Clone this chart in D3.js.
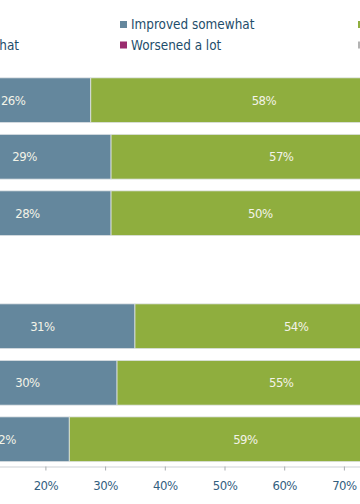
<!DOCTYPE html>
<html>
<head>
<meta charset="utf-8">
<script src="https://cdn.jsdelivr.net/npm/d3@7"></script>
<style>
  html, body { margin: 0; padding: 0; background: #ffffff; overflow: hidden; }
  svg { display: block; }
</style>
</head>
<body>
<svg id="chart" width="360" height="504"></svg>
<script>
// ---- data ----
const categories = ["A1", "A2", "A3", "gap", "B1", "B2", "B3"];
const seriesNames = ["Improved a lot", "Improved somewhat", "Stayed the same", "Worsened somewhat", "Worsened a lot", "Don't know"];
const improvedALot      = [1.6, 2, 3, null, 4, 2, 2];
const improvedSomewhat  = [26, 29, 28, null, 31, 30, 22];
const stayedSame        = [58, 57, 50, null, 54, 55, 59];
const worsenedSomewhat  = [9, 8, 12, null, 7, 8, 10];
const worsenedALot      = [3, 2, 4, null, 2, 3, 4];
const dontKnow          = [2.4, 2, 3, null, 2, 2, 3];
const tickValues = [0, 10, 20, 30, 40, 50, 60, 70, 80, 90, 100];
const colors = ["#1d4f6e", "#64879d", "#8fae3e", "#d8a31f", "#9a2b6e", "#b3b3b3"];

// ---- layout ----
const svg = d3.select("#chart");
const plotLeft = -74, plotRight = 523;
const x = d3.scaleLinear().domain([0, 100]).range([plotLeft, plotRight]);
const y = d3.scaleBand().domain(categories).range([72.2, 467.3]).paddingInner(0.208).paddingOuter(0.1);

const seriesData = [improvedALot, improvedSomewhat, stayedSame, worsenedSomewhat, worsenedALot, dontKnow];
const rows = categories.map((c, i) => {
  const o = { cat: c };
  seriesNames.forEach((s, j) => o[s] = seriesData[j][i]);
  return o;
}).filter(d => d[seriesNames[0]] !== null);

const stacked = d3.stack().keys(seriesNames)(rows);

const labelFont = "'DejaVu Sans Condensed', 'DejaVu Sans', sans-serif";
const legendFont = "'DejaVu Sans Condensed', 'DejaVu Sans', sans-serif";

const g = svg.append("g");
stacked.forEach((layer, j) => {
  const lg = g.append("g");
  lg.selectAll("rect").data(layer).join("rect")
    .attr("x", d => x(d[0]))
    .attr("y", d => y(d.data.cat))
    .attr("width", d => x(d[1]) - x(d[0]))
    .attr("height", y.bandwidth())
    .attr("fill", colors[j])
    .attr("stroke", "#dfe3e6")
    .attr("stroke-width", 0.8);
  lg.selectAll("text").data(layer.filter(d => d[1] - d[0] >= 5)).join("text")
    .attr("x", d => (x(d[0]) + x(d[1])) / 2)
    .attr("y", d => y(d.data.cat) + y.bandwidth() / 2)
    .attr("dy", "0.36em")
    .attr("text-anchor", "middle")
    .attr("fill", "#f3f3e8")
    .attr("font-family", labelFont)
    .attr("font-size", 13)
    .attr("letter-spacing", -0.5)
    .text(d => Math.round(d[1] - d[0]) + "%");
});

// ---- x axis ----
const axisY = 466.5;
const ax = svg.append("g").attr("transform", `translate(0,${axisY})`)
  .call(d3.axisBottom(x).tickValues(tickValues).tickFormat(d => d + "%").tickSize(4).tickPadding(10));
ax.select(".domain").attr("stroke", "#cdd1d5").attr("stroke-width", 1.2);
ax.selectAll(".tick line").attr("stroke", "#a9adb1");
ax.selectAll(".tick text").attr("fill", "#33607f")
  .attr("font-family", labelFont).attr("font-size", 13).attr("letter-spacing", -0.5);

// ---- legend ----
const legendCols = 3, colStep = 238, legendX0 = 120 - colStep, rowY = [24.5, 45];
const leg = svg.append("g");
seriesNames.forEach((s, i) => {
  const cx = legendX0 + (i % legendCols) * colStep;
  const cy = rowY[Math.floor(i / legendCols)];
  leg.append("rect").attr("x", cx).attr("y", cy - 3.5).attr("width", 7).attr("height", 7).attr("fill", colors[i]);
  leg.append("text").attr("x", cx + 11).attr("y", cy).attr("dy", "0.36em")
    .attr("fill", "#1e4d6b").attr("font-family", legendFont).attr("font-size", 13.4).text(s);
});
</script>
</body>
</html>
